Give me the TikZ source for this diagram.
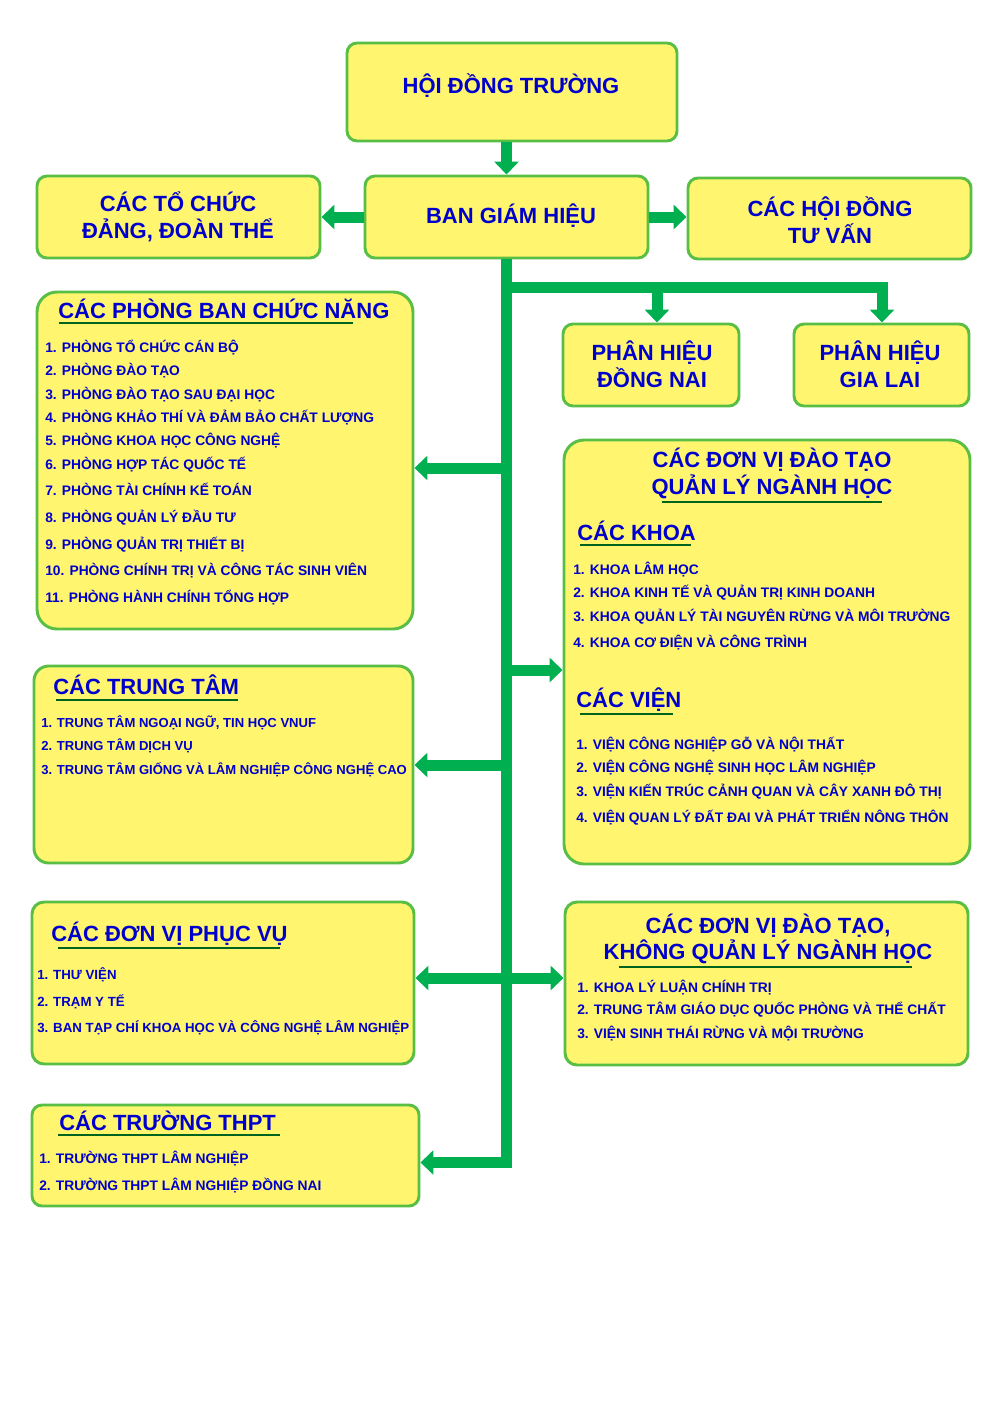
\documentclass[tikz,border=0pt]{standalone}
\usepackage{fontspec}
\setmainfont{Liberation Sans}
\usetikzlibrary{arrows.meta,fit}
\definecolor{boxfill}{RGB}{255,245,110}
\definecolor{boxline}{RGB}{88,190,68}
\definecolor{txtblue}{RGB}{0,0,205}
\definecolor{arrgreen}{RGB}{0,176,80}
\definecolor{ulgreen}{RGB}{0,100,30}
\begin{document}
\begin{tikzpicture}[x=0.75pt,y=-0.75pt,
 box/.style={draw=boxline, fill=boxfill, line width=2.2pt, rounded corners=7.5pt, inner sep=0pt},
 bigbox/.style={box, rounded corners=15pt},
 ttl/.style={text=txtblue, font=\fontsize{16.5}{18}\selectfont\bfseries, inner sep=0pt, anchor=base},
 ttlw/.style={ttl, anchor=base west},
 itm/.style={text=txtblue, font=\fontsize{10.35}{12}\selectfont\bfseries, inner sep=0pt, anchor=base west},
 itmtt/.style={itm, font=\fontsize{9.8}{12}\selectfont\bfseries},
 itmpv/.style={itm, font=\fontsize{9.95}{12}\selectfont\bfseries},
 ul/.style={draw=ulgreen, line width=0.9pt},
 arr/.style={draw=arrgreen, line width=8.25pt, line join=miter, -{Triangle[width=18pt,length=9.75pt]}},
]
\fill[white] (0,0) rectangle (1000,1402);
\useasboundingbox (0,0) rectangle (1000,1402);

% boxes
\node[box, fit={(347,43) (677,141)}] (hdt) {};
\node[box, fit={(365,176) (648,258)}] (bgh) {};
\node[box, fit={(37,176) (320,258)}] (tochuc) {};
\node[box, fit={(688,178) (971,259)}] (hoidong) {};
\node[bigbox, fit={(37,292) (413,629)}] (pb) {};
\node[box, fit={(563,324) (739,406)}] (phdn) {};
\node[box, fit={(794,324) (969,406)}] (phgl) {};
\node[bigbox, fit={(564,440) (970,864)}] (dt) {};
\node[box, rounded corners=11pt, fit={(34,666) (413,863)}] (tt) {};
\node[box, rounded corners=9pt, fit={(32,902) (414,1064)}] (pv) {};
\node[box, rounded corners=9pt, fit={(565,902) (968,1065)}] (kq) {};
\node[box, fit={(32,1105) (419,1206)}] (thpt) {};

% coordinates for connector levels
\coordinate (yb) at (0,287.5);
\coordinate (y1) at (0,468);
\coordinate (y2) at (0,670);
\coordinate (y3) at (0,765);
\coordinate (y4) at (0,978);
\coordinate (y5) at (0,1162.5);
\coordinate (xdn) at (657,0);
\coordinate (xgl) at (882,0);

% connectors
\draw[arr] (bgh.north |- hdt.south) -- (bgh.north);
\draw[arr] (bgh.west) -- (tochuc.east |- bgh.west);
\draw[arr] (bgh.east) -- (hoidong.west |- bgh.east);
\draw[arr] (bgh.south) -- (bgh.south |- y5) -- (thpt.east |- y5);
\draw[arr] (bgh.south |- yb) -- (xgl |- yb) -- (xgl |- phgl.north);
\draw[arr] (xdn |- yb) -- (xdn |- phdn.north);
\draw[arr] (bgh.south |- y1) -- (pb.east |- y1);
\draw[arr] (bgh.south |- y2) -- (dt.west |- y2);
\draw[arr] (bgh.south |- y3) -- (tt.east |- y3);
\draw[arr] (bgh.south |- y4) -- (pv.east |- y4);
\draw[arr] (bgh.south |- y4) -- (kq.west |- y4);

% top texts
\node[ttl] (hdtT) at (511,94) {HỘI ĐỒNG TRƯỜNG};
\node[ttl] (bghT) at (511,223) {BAN GIÁM HIỆU};
\node[ttl] (tochucA) at (178,211) {CÁC TỔ CHỨC};
\node[ttl] (tochucB) at (178,238) {ĐẢNG, ĐOÀN THỂ};
\node[ttl] (hoidongA) at (830,216) {CÁC HỘI ĐỒNG};
\node[ttl] (hoidongB) at (830,243) {TƯ VẤN};
\node[ttl] (phdnA) at (652,360) {PHÂN HIỆU};
\node[ttl] (phdnB) at (652,387) {ĐỒNG NAI};
\node[ttl] (phglA) at (880,360) {PHÂN HIỆU};
\node[ttl] (phglB) at (880,387) {GIA LAI};

% phong ban
\node[ttlw] (pbT) at (58,318) {CÁC PHÒNG BAN CHỨC NĂNG};
\draw[ul] (59,323) -- (353,323);
\node[itm] (pb1) at (45,352) {1. PHÒNG TỔ CHỨC CÁN BỘ};
\node[itm] (pb2) at (45,375) {2. PHÒNG ĐÀO TẠO};
\node[itm] (pb3) at (45,399) {3. PHÒNG ĐÀO TẠO SAU ĐẠI HỌC};
\node[itm] (pb4) at (45,422) {4. PHÒNG KHẢO THÍ VÀ ĐẢM BẢO CHẤT LƯỢNG};
\node[itm] (pb5) at (45,445) {5. PHÒNG KHOA HỌC CÔNG NGHỆ};
\node[itm] (pb6) at (45,469) {6. PHÒNG HỢP TÁC QUỐC TẾ};
\node[itm] (pb7) at (45,495) {7. PHÒNG TÀI CHÍNH KẾ TOÁN};
\node[itm] (pb8) at (45,522) {8. PHÒNG QUẢN LÝ ĐẦU TƯ};
\node[itm] (pb9) at (45,549) {9. PHÒNG QUẢN TRỊ THIẾT BỊ};
\node[itm] (pb10) at (45,575) {10. PHÒNG CHÍNH TRỊ VÀ CÔNG TÁC SINH VIÊN};
\node[itm] (pb11) at (45,602) {11. PHÒNG HÀNH CHÍNH TỔNG HỢP};

% dao tao quan ly nganh hoc
\node[ttl] (dtA) at (772,467) {CÁC ĐƠN VỊ ĐÀO TẠO};
\node[ttl] (dtB) at (772,494) {QUẢN LÝ NGÀNH HỌC};
\draw[ul] (662,502) -- (882,502);
\node[ttlw] (khoaT) at (577,540) {CÁC KHOA};
\draw[ul] (580,545) -- (691,545);
\node[itm] (k1) at (573,574) {1. KHOA LÂM HỌC};
\node[itm] (k2) at (573,597) {2. KHOA KINH TẾ VÀ QUẢN TRỊ KINH DOANH};
\node[itm] (k3) at (573,621) {3. KHOA QUẢN LÝ TÀI NGUYÊN RỪNG VÀ MÔI TRƯỜNG};
\node[itm] (k4) at (573,647) {4. KHOA CƠ ĐIỆN VÀ CÔNG TRÌNH};
\node[ttlw] (vienT) at (576,707) {CÁC VIỆN};
\draw[ul] (580,714) -- (673,714);
\node[itm] (v1) at (576,749) {1. VIỆN CÔNG NGHIỆP GỖ VÀ NỘI THẤT};
\node[itm] (v2) at (576,772) {2. VIỆN CÔNG NGHỆ SINH HỌC LÂM NGHIỆP};
\node[itm] (v3) at (576,796) {3. VIỆN KIẾN TRÚC CẢNH QUAN VÀ CÂY XANH ĐÔ THỊ};
\node[itm] (v4) at (576,822) {4. VIỆN QUAN LÝ ĐẤT ĐAI VÀ PHÁT TRIỂN NÔNG THÔN};

% trung tam
\node[ttlw] (ttT) at (53,694) {CÁC TRUNG TÂM};
\draw[ul] (56,700) -- (238,700);
\node[itmtt] (tt1) at (41,727) {1. TRUNG TÂM NGOẠI NGỮ, TIN HỌC VNUF};
\node[itmtt] (tt2) at (41,750) {2. TRUNG TÂM DỊCH VỤ};
\node[itmtt] (tt3) at (41,774) {3. TRUNG TÂM GIỐNG VÀ LÂM NGHIỆP CÔNG NGHỆ CAO};

% phuc vu
\node[ttlw] (pvT) at (51,941) {CÁC ĐƠN VỊ PHỤC VỤ};
\draw[ul] (58,948) -- (280,948);
\node[itmpv] (pv1) at (37,979) {1. THƯ VIỆN};
\node[itmpv] (pv2) at (37,1006) {2. TRẠM Y TẾ};
\node[itmpv] (pv3) at (37,1032) {3. BAN TẠP CHÍ KHOA HỌC VÀ CÔNG NGHỆ LÂM NGHIỆP};

% khong quan ly nganh hoc
\node[ttl] (kqA) at (768,933) {CÁC ĐƠN VỊ ĐÀO TẠO,};
\node[ttl] (kqB) at (768,959) {KHÔNG QUẢN LÝ NGÀNH HỌC};
\draw[ul] (619,967) -- (912,967);
\node[itm] (kq1) at (577,992) {1. KHOA LÝ LUẬN CHÍNH TRỊ};
\node[itm] (kq2) at (577,1014) {2. TRUNG TÂM GIÁO DỤC QUỐC PHÒNG VÀ THỂ CHẤT};
\node[itm] (kq3) at (577,1038) {3. VIỆN SINH THÁI RỪNG VÀ MỘI TRƯỜNG};

% THPT
\node[ttlw] (thptT) at (59,1130) {CÁC TRƯỜNG THPT};
\draw[ul] (58,1135) -- (280,1135);
\node[itm] (th1) at (39,1163) {1. TRƯỜNG THPT LÂM NGHIỆP};
\node[itm] (th2) at (39,1190) {2. TRƯỜNG THPT LÂM NGHIỆP ĐỒNG NAI};
\end{tikzpicture}
\end{document}
